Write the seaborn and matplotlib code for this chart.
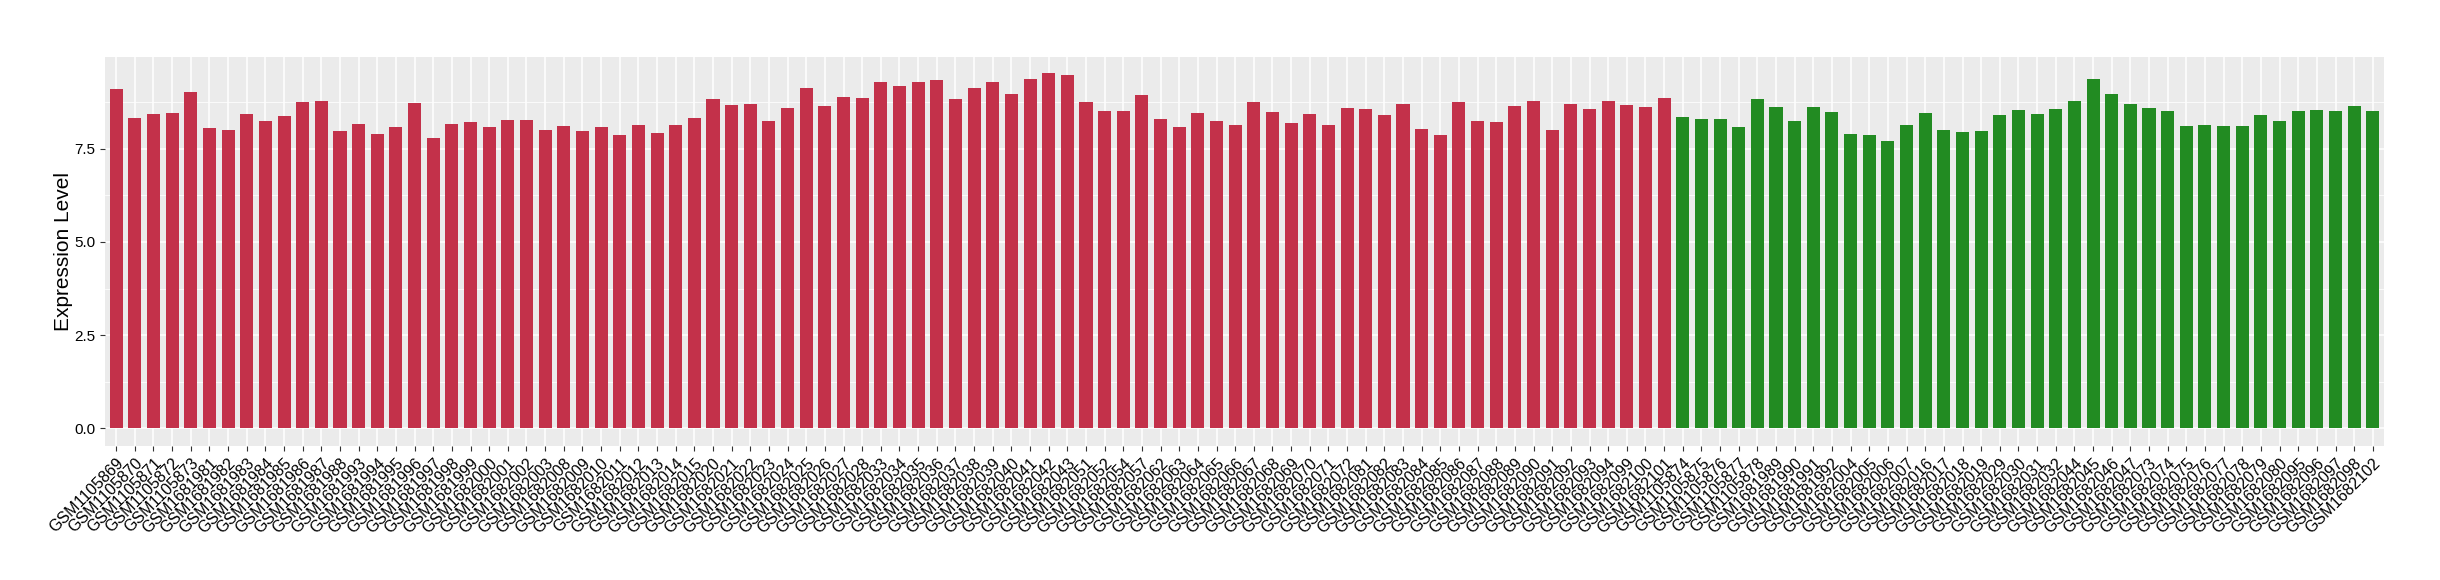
import pandas as pd
import matplotlib
matplotlib.use('Agg')
import matplotlib.pyplot as plt
import seaborn as sns

# sample ids, in plotting order
red_samples = ['GSM1105869', 'GSM1105870', 'GSM1105871', 'GSM1105872', 'GSM1105873',
               'GSM1681981', 'GSM1681982', 'GSM1681983', 'GSM1681984', 'GSM1681985',
               'GSM1681986', 'GSM1681987', 'GSM1681988', 'GSM1681993', 'GSM1681994',
               'GSM1681995', 'GSM1681996', 'GSM1681997', 'GSM1681998', 'GSM1681999',
               'GSM1682000', 'GSM1682001', 'GSM1682002', 'GSM1682003', 'GSM1682008',
               'GSM1682009', 'GSM1682010', 'GSM1682011', 'GSM1682012', 'GSM1682013',
               'GSM1682014', 'GSM1682015', 'GSM1682020', 'GSM1682021', 'GSM1682022',
               'GSM1682023', 'GSM1682024', 'GSM1682025', 'GSM1682026', 'GSM1682027',
               'GSM1682028', 'GSM1682033', 'GSM1682034', 'GSM1682035', 'GSM1682036',
               'GSM1682037', 'GSM1682038', 'GSM1682039', 'GSM1682040', 'GSM1682041',
               'GSM1682042', 'GSM1682043', 'GSM1682051', 'GSM1682052', 'GSM1682054',
               'GSM1682057', 'GSM1682062', 'GSM1682063', 'GSM1682064', 'GSM1682065',
               'GSM1682066', 'GSM1682067', 'GSM1682068', 'GSM1682069', 'GSM1682070',
               'GSM1682071', 'GSM1682072', 'GSM1682081', 'GSM1682082', 'GSM1682083',
               'GSM1682084', 'GSM1682085', 'GSM1682086', 'GSM1682087', 'GSM1682088',
               'GSM1682089', 'GSM1682090', 'GSM1682091', 'GSM1682092', 'GSM1682093',
               'GSM1682094', 'GSM1682099', 'GSM1682100', 'GSM1682101']
red_values = [9.11, 8.32, 8.43, 8.46, 9.03, 8.05, 8.00, 8.43, 8.24, 8.38,
              8.76, 8.79, 7.97, 8.16, 7.89, 8.08, 8.73, 7.78, 8.16, 8.22,
              8.08, 8.27, 8.27, 8.00, 8.11, 7.97, 8.08, 7.86, 8.13, 7.92,
              8.13, 8.32, 8.84, 8.68, 8.70, 8.24, 8.60, 9.14, 8.65, 8.89,
              8.87, 9.28, 9.17, 9.28, 9.33, 8.84, 9.14, 9.28, 8.98, 9.36,
              9.52, 9.47, 8.76, 8.51, 8.51, 8.95, 8.30, 8.08, 8.46, 8.24,
              8.13, 8.76, 8.49, 8.19, 8.43, 8.13, 8.60, 8.57, 8.41, 8.70,
              8.03, 7.86, 8.76, 8.24, 8.22, 8.65, 8.79, 8.00, 8.70, 8.57,
              8.79, 8.68, 8.62, 8.87]

green_samples = ['GSM1105874', 'GSM1105875', 'GSM1105876', 'GSM1105877', 'GSM1105878',
                 'GSM1681989', 'GSM1681990', 'GSM1681991', 'GSM1681992', 'GSM1682004',
                 'GSM1682005', 'GSM1682006', 'GSM1682007', 'GSM1682016', 'GSM1682017',
                 'GSM1682018', 'GSM1682019', 'GSM1682029', 'GSM1682030', 'GSM1682031',
                 'GSM1682032', 'GSM1682044', 'GSM1682045', 'GSM1682046', 'GSM1682047',
                 'GSM1682073', 'GSM1682074', 'GSM1682075', 'GSM1682076', 'GSM1682077',
                 'GSM1682078', 'GSM1682079', 'GSM1682080', 'GSM1682095', 'GSM1682096',
                 'GSM1682097', 'GSM1682098', 'GSM1682102']
green_values = [8.35, 8.30, 8.30, 8.08, 8.84, 8.62, 8.24, 8.62, 8.49, 7.89,
                7.86, 7.70, 8.13, 8.46, 8.00, 7.94, 7.97, 8.41, 8.54, 8.43,
                8.57, 8.79, 9.38, 8.98, 8.70, 8.60, 8.50, 8.10, 8.15, 8.10,
                8.10, 8.40, 8.25, 8.50, 8.55, 8.50, 8.65, 8.50]

df = pd.concat([
    pd.DataFrame({'sample': red_samples, 'value': red_values, 'group': 'red'}),
    pd.DataFrame({'sample': green_samples, 'value': green_values, 'group': 'green'}),
], ignore_index=True)

plt.rcParams['font.family'] = ['Liberation Sans', 'DejaVu Sans']

fig = plt.figure(figsize=(24.4, 5.8), dpi=100)
ax = fig.add_axes([105 / 2440, 1 - 446 / 580, (2384 - 105) / 2440, (446 - 57) / 580])
ax.set_facecolor('#EBEBEB')

sns.barplot(data=df, x='sample', y='value', hue='group',
            palette={'red': '#C3314A', 'green': '#228B22'}, saturation=1,
            dodge=False, width=0.7, legend=False, ax=ax, zorder=3)

n = len(df)
ax.set_xlim(-0.6, n - 0.4)
ax.set_ylim(-0.47, 9.96)
ax.set_yticks([0, 2.5, 5.0, 7.5])
ax.set_yticklabels(['0.0', '2.5', '5.0', '7.5'])
ax.set_yticks([1.25, 3.75, 6.25, 8.75], minor=True)

ax.grid(True, which='major', color='white', linewidth=1.1, zorder=0)
ax.grid(True, which='minor', axis='y', color='white', linewidth=0.55, zorder=0)
ax.set_axisbelow(True)
for s in ax.spines.values():
    s.set_visible(False)

ax.tick_params(axis='both', which='major', length=3.5, width=0.8, color='#333333',
               labelcolor='black', labelsize=11)
ax.tick_params(axis='y', which='minor', length=0)
plt.setp(ax.get_xticklabels(), rotation=45, ha='right', va='top',
         rotation_mode='anchor', fontsize=11.5)

ax.set_xlabel('')
ax.set_ylabel('Expression Level', fontsize=15, labelpad=1)

fig.savefig('out.png', dpi=100)
